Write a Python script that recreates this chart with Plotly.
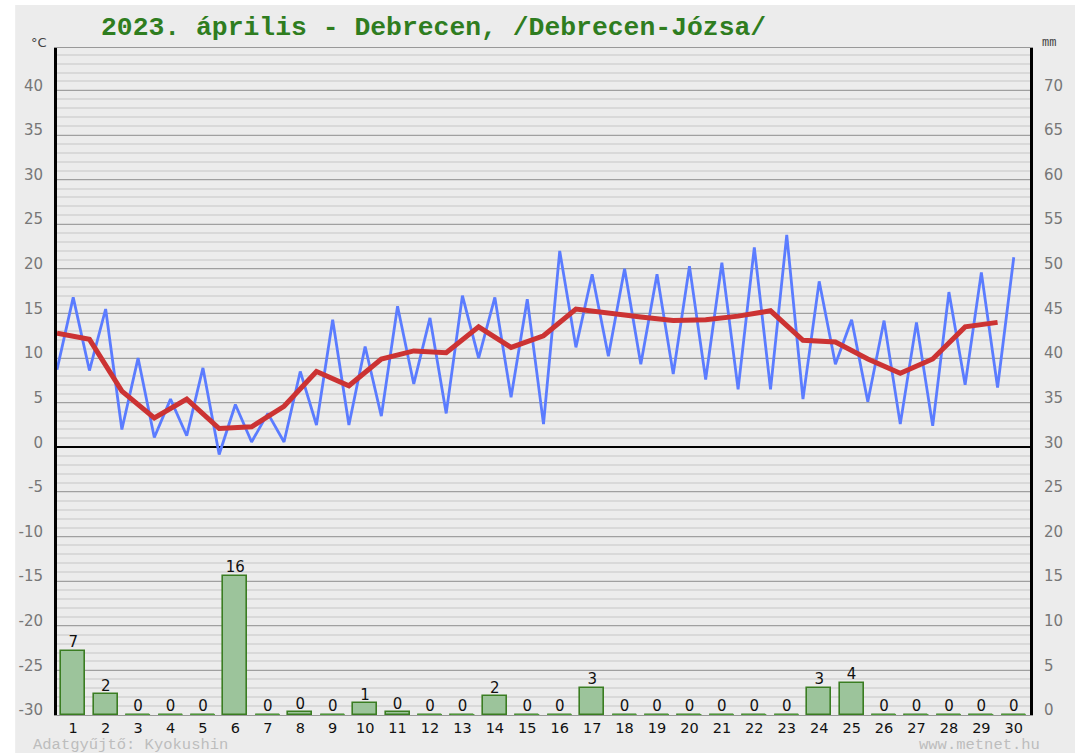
import numpy as np
import plotly.graph_objects as go

# ---- data ----
days = list(range(1, 31))
# night minimum (plotted at day-0.5) and daytime maximum (plotted at day)
tmin = [8.7, 8.6, 2.0, 1.1, 1.3, -0.8, 0.6, 0.6, 2.5, 2.5, 3.5, 7.1, 3.8, 10.0, 5.6,
        2.6, 11.2, 10.2, 9.3, 8.2, 7.6, 6.5, 6.5, 5.4, 9.3, 5.1, 2.6, 2.4, 7.0, 6.7]
tmax = [16.8, 15.5, 10.0, 5.4, 8.9, 4.8, 3.8, 8.5, 14.3, 11.3, 15.8, 14.5, 17.0, 16.8, 16.6,
        22.0, 19.4, 20.0, 19.4, 20.3, 20.7, 22.4, 23.8, 18.6, 14.3, 14.2, 14.0, 17.4, 19.6, 21.3]
# daily mean (plotted at day-0.5)
tmean = [12.8, 12.1, 6.3, 3.3, 5.4, 2.1, 2.3, 4.6, 8.5, 6.9, 9.9, 10.8, 10.6, 13.5, 11.2,
         12.5, 15.5, 15.0, 14.6, 14.2, 14.3, 14.7, 15.3, 12.0, 11.8, 9.9, 8.3, 9.9, 13.5, 14.0]
# precipitation, mm
rain = [7.2, 2.3, 0, 0, 0, 15.6, 0, 0.3, 0, 1.3, 0.3, 0, 0, 2.1, 0,
        0, 3.0, 0, 0, 0, 0, 0, 0, 3.0, 3.6, 0, 0, 0, 0, 0]
left_ticks = list(range(-30, 45, 5))
right_ticks = list(range(0, 75, 5))

# ---- derived ----
d = np.array(days, dtype=float)
tx = np.empty(60); ty = np.empty(60)
tx[0::2] = d - 0.5; tx[1::2] = d
ty[0::2] = tmin; ty[1::2] = tmax
labels = [str(int(np.floor(v + 0.5))) for v in rain]

zx, zy = [], []
for day, v in zip(days, rain):
    if v == 0:
        zx += [day - 0.37, day + 0.37, None]
        zy += [0, 0, None]

W, H = 1075, 753
L, R, T, B = 57, 41, 48, 38
pw, ph = W - L - R, H - T - B

def px_x(x):
    return (x - L) / pw

def px_y(y):
    return (H - B - y) / ph

fig = go.Figure()

fig.add_trace(go.Bar(x=days, y=rain, yaxis="y2", width=0.74,
                     marker=dict(color="#9cc49b", line=dict(color="#3a7d22", width=1.6)),
                     hoverinfo="x+y", showlegend=False))
fig.add_trace(go.Scatter(x=zx, y=zy, yaxis="y2", mode="lines",
                         line=dict(color="#4f9a3a", width=2), cliponaxis=False,
                         hoverinfo="skip", showlegend=False))
fig.add_trace(go.Scatter(x=days, y=rain, yaxis="y2", mode="text", text=labels,
                         textposition="top center",
                         textfont=dict(family="DejaVu Sans", size=15, color="#111"),
                         cliponaxis=False, hoverinfo="skip", showlegend=False))
fig.add_trace(go.Scatter(x=tx, y=ty, mode="lines",
                         line=dict(color="#5b7cff", width=2.8),
                         showlegend=False))
fig.add_trace(go.Scatter(x=d - 0.5, y=tmean, mode="lines",
                         line=dict(color="#cc3333", width=5),
                         showlegend=False))

tickfont = dict(family="DejaVu Sans", size=15, color="#777")

fig.update_layout(
    width=W, height=H,
    margin=dict(l=L, r=R, t=T, b=B, pad=0),
    paper_bgcolor="#ececec", plot_bgcolor="#ececec",
    bargap=0,
    xaxis=dict(range=[0.5, 30.5], tickvals=days, ticktext=[str(v) for v in days],
               showgrid=False, zeroline=False, showline=True, mirror=True,
               linecolor="#999", linewidth=1, ticks="",
               tickfont=dict(family="DejaVu Sans", size=14.5, color="#111"),
               layer="below traces"),
    yaxis=dict(range=[-30, 44.75], tickvals=left_ticks, ticktext=[str(v) for v in left_ticks],
               showgrid=True, gridcolor="#a0a0a0", gridwidth=1,
               minor=dict(dtick=1, tick0=0, showgrid=True, gridcolor="#d9d9d9", gridwidth=1.5),
               zeroline=True, zerolinecolor="#000", zerolinewidth=2,
               showline=True, linecolor="#000", linewidth=3,
               ticks="", ticklabelstandoff=8, ticklabelshift=-5, tickfont=tickfont,
               fixedrange=True),
    yaxis2=dict(range=[0, 74.75], overlaying="y", side="right",
                tickvals=right_ticks, ticktext=[str(v) for v in right_ticks],
                showgrid=False, zeroline=False,
                showline=True, linecolor="#000", linewidth=3,
                ticks="", ticklabelstandoff=8, ticklabelshift=-5, tickfont=tickfont),
    shapes=[
        dict(type="rect", xref="paper", yref="paper", x0=px_x(-5), x1=px_x(15),
             y0=px_y(H + 5), y1=px_y(-5), fillcolor="white", line=dict(width=0), layer="above"),
        dict(type="rect", xref="paper", yref="paper", x0=px_x(-5), x1=px_x(W + 5),
             y0=px_y(5), y1=px_y(-5), fillcolor="white", line=dict(width=0), layer="above"),
    ],
    annotations=[
        dict(text="<b>2023. április - Debrecen, /Debrecen-Józsa/</b>", xref="paper", yref="paper",
             x=px_x(99), y=px_y(28), xanchor="left", yanchor="middle", showarrow=False,
             font=dict(family="Liberation Mono", size=26.4, color="#2f7d1f")),
        dict(text="°C", xref="paper", yref="paper", x=px_x(39), y=px_y(42),
             xanchor="center", yanchor="middle", showarrow=False,
             font=dict(family="DejaVu Sans", size=13, color="#444")),
        dict(text="mm", xref="paper", yref="paper", x=px_x(1053), y=px_y(43),
             xanchor="center", yanchor="middle", showarrow=False,
             font=dict(family="Liberation Mono", size=12, color="#444")),
        dict(text="Adatgyűjtő: Kyokushin", xref="paper", yref="paper", x=px_x(31), y=px_y(745),
             xanchor="left", yanchor="middle", showarrow=False,
             font=dict(family="Liberation Mono", size=15.5, color="#bdbdbd")),
        dict(text="www.metnet.hu", xref="paper", yref="paper", x=px_x(1046), y=px_y(745),
             xanchor="right", yanchor="middle", showarrow=False,
             font=dict(family="Liberation Mono", size=15.5, color="#bdbdbd")),
    ],
)

fig.write_html("out.html", config={"displayModeBar": False},
               post_script="document.body.style.margin='0';document.body.style.overflow='hidden';")
